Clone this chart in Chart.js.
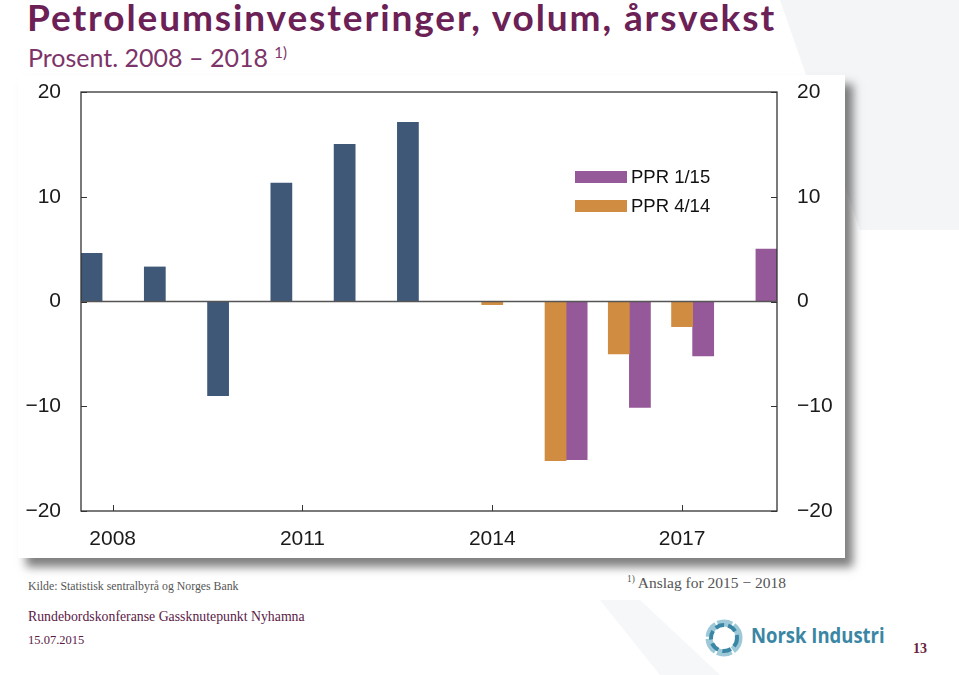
<!DOCTYPE html>
<html>
<head>
<meta charset="utf-8">
<script src="https://cdn.jsdelivr.net/npm/chart.js@4/dist/chart.umd.min.js"></script>
<style>
  body { margin: 0; width: 959px; height: 675px; background: #fff; position: relative; overflow: hidden; }
  .bg { position: absolute; left: 0; top: 0; }
  .title { position: absolute; left: 27px; top: -6px; font-family: Lato, sans-serif; font-weight: 700; font-size: 37px; letter-spacing: 1.9px; color: #6b2156; white-space: nowrap; }
  .sub { position: absolute; left: 28px; top: 42px; font-family: Lato, sans-serif; font-size: 25px; color: #7d3469; white-space: nowrap; }
  .sub sup, .note sup { font-size: 60%; }
  .card { position: absolute; left: 18px; top: 75px; width: 827px; height: 483px; background: #fff; box-shadow: 8px 9px 9px rgba(0,0,0,0.5); }
  canvas { position: absolute; left: 0; top: 0; }
  .legend { position: absolute; left: 557px; top: 87px; font-family: "Liberation Sans", Arial, sans-serif; font-size: 18.5px; color: #111; }
  .legend div { height: 29px; display: flex; align-items: center; }
  .legend span.sw { display: inline-block; width: 52px; height: 12px; margin-right: 4px; }
  .serif { position: absolute; font-family: "Liberation Serif", serif; white-space: nowrap; }
  .src { left: 28px; top: 579px; font-size: 11.8px; color: #555; }
  .note { left: 627px; top: 574px; font-size: 15.5px; color: #555; }
  .conf { left: 28px; top: 609px; font-size: 13.8px; color: #5a2048; }
  .date { left: 28px; top: 633px; font-size: 12.5px; color: #5a2048; }
  .page { left: 913px; top: 641px; font-size: 14px; font-weight: bold; color: #6b1f3f; }
  .logo { position: absolute; left: 704px; top: 618px; }
  .logotext { position: absolute; left: 751px; top: 619px; font-family: "Open Sans", sans-serif; font-weight: 700; font-size: 22px; color: #3a86a4; white-space: nowrap; transform: scaleX(0.84); transform-origin: left top; }
</style>
</head>
<body>
<svg class="bg" width="959" height="675">
  <polygon points="780,0 959,0 959,230 860,230" fill="#f3f5f7"/>
  <polygon points="600,600 640,600 720,675 660,675" fill="#f5f7f9"/>
</svg>
<div class="title">Petroleumsinvesteringer, volum, årsvekst</div>
<div class="sub">Prosent. 2008 – 2018 <sup>1)</sup></div>
<div class="card">
  <canvas id="chart" width="827" height="483"></canvas>
  <div class="legend">
    <div><span class="sw" style="background:#955898"></span>PPR 1/15</div>
    <div><span class="sw" style="background:#d08c40"></span>PPR 4/14</div>
  </div>
</div>
<div class="serif src">Kilde: Statistisk sentralbyrå og Norges Bank</div>
<div class="serif note"><sup>1)</sup> Anslag for 2015 − 2018</div>
<div class="serif conf">Rundebordskonferanse Gassknutepunkt Nyhamna</div>
<div class="serif date">15.07.2015</div>
<div class="serif page">13</div>
<svg class="logo" width="40" height="40" viewBox="0 0 40 40">
  <circle cx="20" cy="20" r="15" fill="none" stroke="#9cc8d8" stroke-width="7" stroke-dasharray="14 2"/>
  <circle cx="20" cy="20" r="13" fill="none" stroke="#3a86a4" stroke-width="4" stroke-dasharray="9 4"/>
</svg>
<div class="logotext">Norsk Industri</div>

<script>
const years = ['2008', '2009', '2010', '2011', '2012', '2013', '2014', '2015', '2016', '2017', '2018'];
const shownYears = ['2008', '2011', '2014', '2017'];
const actual = [4.6, 3.3, -9.0, 11.3, 15.0, 17.1, null, null, null, null, null];
const ppr414 = [null, null, null, null, null, null, -0.3, -15.2, -5.0, -2.4, null];
const ppr115 = [null, null, null, null, null, null, null, -15.1, -10.1, -5.2, 5.0];
const yTicks = [-20, -10, 0, 10, 20];

const fmt = v => (v < 0 ? '\u2212' + Math.abs(v) : String(v));

const framePlugin = {
    id: 'frame',
    afterDatasetsDraw(chart) {
        const ctx = chart.ctx;
        const a = chart.chartArea;
        const y = chart.scales.y;
        const x = chart.scales.x;
        ctx.save();
        ctx.strokeStyle = '#333';
        ctx.lineWidth = 1.3;
        ctx.strokeRect(a.left, a.top, a.right - a.left, a.bottom - a.top);
        const z = y.getPixelForValue(0);
        ctx.strokeStyle = '#555';
        ctx.beginPath();
        ctx.moveTo(a.left, z);
        ctx.lineTo(a.right, z);
        ctx.stroke();
        ctx.strokeStyle = '#333';
        ctx.lineWidth = 1;
        ctx.beginPath();
        yTicks.forEach(v => {
            const py = Math.round(y.getPixelForValue(v)) + 0.5;
            ctx.moveTo(a.left, py); ctx.lineTo(a.left + 6, py);
            ctx.moveTo(a.right, py); ctx.lineTo(a.right - 6, py);
        });
        shownYears.forEach(yr => {
            const px = Math.round(x.getPixelForValue(years.indexOf(yr))) + 0.5;
            ctx.moveTo(px, a.bottom); ctx.lineTo(px, a.bottom - 6);
        });
        ctx.stroke();
        ctx.restore();
    }
};

const tickFont = { family: 'Liberation Sans', size: 21 };

function fitY(width) {
    return function(s) {
        s.width = width;
        s.paddingTop = 0;
        s.paddingBottom = 0;
    };
}

new Chart(document.getElementById('chart').getContext('2d'), {
    type: 'bar',
    data: {
        labels: years,
        datasets: [
            { label: 'Faktisk', data: actual, backgroundColor: '#3f5878' },
            { label: 'PPR 4/14', data: ppr414, backgroundColor: '#d08c40' },
            { label: 'PPR 1/15', data: ppr115, backgroundColor: '#955898' }
        ]
    },
    options: {
        responsive: false,
        animation: false,
        devicePixelRatio: 1,
        layout: { padding: { top: 17, left: 0, right: 0, bottom: 0 } },
        datasets: { bar: { categoryPercentage: 1, barPercentage: 1 } },
        plugins: { legend: { display: false }, tooltip: { enabled: false } },
        scales: {
            x: {
                offset: true,
                grid: { display: false, drawTicks: false },
                border: { display: false },
                ticks: {
                    autoSkip: false, maxRotation: 0, font: tickFont, color: '#1a1a1a', padding: 16,
                    callback: function(v, i) { return shownYears.includes(years[i]) ? years[i] : ''; }
                },
                afterFit(s) { s.height = 47; s.paddingLeft = 0; s.paddingRight = 0; }
            },
            y: {
                position: 'left', min: -20, max: 20,
                grid: { display: false, drawTicks: false },
                border: { display: false },
                ticks: { stepSize: 10, font: tickFont, color: '#1a1a1a', padding: 20, callback: fmt },
                afterFit: fitY(63)
            },
            y2: {
                position: 'right', min: -20, max: 20,
                grid: { display: false, drawTicks: false },
                border: { display: false },
                ticks: { stepSize: 10, font: tickFont, color: '#1a1a1a', padding: 20, callback: fmt },
                afterFit: fitY(68)
            }
        }
    },
    plugins: [framePlugin]
});
</script>
</body>
</html>
